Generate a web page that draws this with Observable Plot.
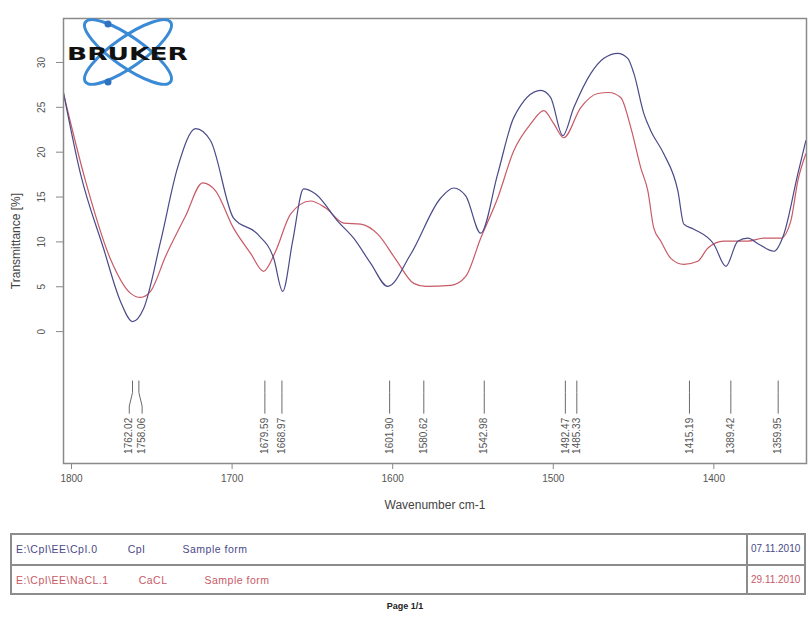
<!DOCTYPE html>
<html><head><meta charset="utf-8">
<script src="https://cdn.jsdelivr.net/npm/d3@7"></script>
<script src="https://cdn.jsdelivr.net/npm/@observablehq/plot@0.6"></script>
<style>
body{margin:0;background:#fff;font-family:"Liberation Sans",Arial,sans-serif;}
#wrap{position:relative;width:810px;height:619px;overflow:hidden;background:#fff;}
#chart{position:absolute;left:0;top:0;}
#logo{position:absolute;left:0;top:0;pointer-events:none;}
#legend{position:absolute;left:10px;top:533px;width:796px;height:62px;box-sizing:border-box;border:2px solid #8c8c8c;}
.row{position:absolute;left:0;width:100%;height:30px;font-size:10.5px;line-height:30px;box-sizing:border-box;letter-spacing:0.5px;}
.row .desc{position:absolute;left:4px;top:0;white-space:nowrap;}
.row .date{position:absolute;left:739px;top:0;white-space:nowrap;letter-spacing:0;font-size:10px;}
.row span.g1{margin-left:30px;}
.row span.g2{margin-left:37px;}
#vdiv{position:absolute;left:734px;top:0;width:2px;height:100%;background:#8c8c8c;}
#hdiv{position:absolute;left:0;top:29px;width:100%;height:2px;background:#8c8c8c;}
#page{position:absolute;left:0;width:810px;top:601px;text-align:center;font-size:9px;font-weight:bold;color:#222;}
</style></head><body>
<div id="wrap">
<div id="chart"></div>
<div id="legend"><div id="hdiv"></div><div id="vdiv"></div></div>
<div id="page">Page 1/1</div>
</div>
<script>
// Spectrum 1 (blue, Cpl)
const wnBlue = [1805.0,1794.4,1780.1,1769.5,1762.0,1755.1,1744.5,1734.0,1722.7,1713.4,1699.1,1684.1,1674.1,1668.5,1662.3,1655.5,1648.0,1634.3,1624.3,1613.7,1603.1,1588.8,1570.1,1562.0,1554.5,1545.2,1534.6,1524.6,1507.8,1501.6,1494.1,1487.2,1476.6,1468.5,1459.8,1453.6,1449.8,1443.6,1439.3,1431.2,1422.4,1418.7,1412.5,1400.0,1392.5,1385.1,1378.8,1372.0,1362.6,1356.4,1347.7,1342.7];
const tBlue = [26.65,17.58,9.29,3.36,1.12,2.58,10.08,18.25,22.62,21.28,12.65,10.86,8.17,4.48,10.08,15.90,15.34,12.32,10.41,7.61,5.04,8.62,14.89,16.01,15.12,10.97,17.58,23.85,26.88,26.09,21.84,24.97,28.78,30.46,31.02,30.46,28.78,24.30,22.40,19.82,15.68,11.98,11.42,9.74,7.28,10.08,10.41,9.74,8.96,10.86,17.58,21.28];
// Spectrum 2 (red, CaCL)
const wnRed = [1805.0,1791.3,1775.7,1763.2,1757.0,1750.8,1741.4,1729.0,1718.4,1710.3,1699.1,1688.5,1680.4,1672.9,1663.6,1651.1,1641.7,1630.5,1619.9,1609.3,1598.1,1586.9,1579.4,1563.9,1554.5,1545.2,1534.6,1524.6,1514.0,1505.9,1499.7,1493.5,1482.9,1472.3,1465.4,1458.0,1451.7,1445.5,1441.1,1437.4,1433.0,1426.8,1418.7,1410.0,1403.8,1393.8,1378.8,1368.9,1358.3,1352.1,1347.7,1342.7];
const tRed = [26.54,16.80,8.06,4.26,3.81,4.48,8.40,12.88,16.57,15.68,11.53,8.73,6.72,8.96,13.10,14.56,13.77,12.09,11.98,10.86,8.06,5.38,5.04,5.15,6.16,10.41,14.89,20.16,23.18,24.64,23.18,21.61,24.97,26.54,26.65,26.09,22.73,18.25,15.68,11.53,10.08,8.17,7.50,7.84,9.29,10.08,10.08,10.41,10.41,12.32,16.80,19.82];
// Peak picks
const peaks = [1762.02,1758.06,1679.59,1668.97,1601.90,1580.62,1542.98,1492.47,1485.33,1415.19,1389.42,1359.95];
const xTicks = [1800,1700,1600,1500,1400];
const yTicks = [0,5,10,15,20,25,30];
// Legend table
const files = ["E:\\CpI\\EE\\CpI.0","E:\\CpI\\EE\\NaCL.1"];
const names = ["CpI","CaCL"];
const forms = ["Sample form","Sample form"];
const dates = ["07.11.2010","29.11.2010"];
const colors = ["#4a4a88","#c85a66"];

const blue = wnBlue.map((w,i)=>({w,t:tBlue[i]}));
const red = wnRed.map((w,i)=>({w,t:tRed[i]}));

// label positions: spread peaks that are too close
const pk = peaks.map((w,i)=>({id:i,w,lw:w}));
for (let i=0;i<pk.length-1;i++){
  const a=pk[i], b=pk[i+1];
  if (a.w-b.w < 5){ const c=(a.w+b.w)/2; a.lw=c+4; b.lw=c-4; }
}
const Y0=-5.5, Y1=-6.8, Y2=-8.3, Y3=-9.1, YT=-9.6;
const leaders = pk.flatMap(p=>[{id:p.id,w:p.w,y:Y0},{id:p.id,w:p.w,y:Y1},{id:p.id,w:p.lw,y:Y2},{id:p.id,w:p.lw,y:Y3}]);

const chart = Plot.plot({
  width:810, height:520,
  marginTop:18, marginLeft:63, marginRight:4, marginBottom:57,
  style:{fontFamily:"Liberation Sans, Arial, sans-serif", background:"#fff", color:"#555"},
  x:{domain:[1805,1342.3]},
  y:{domain:[-14.7,34.9]},
  marks:[
    Plot.axisX({ticks:xTicks, tickSize:6, tickPadding:5, fontSize:10, label:null, tickFormat:d=>String(d), stroke:"#888"}),
    Plot.axisY({ticks:yTicks, tickSize:7, tickPadding:12, tickRotate:-90, fontSize:10, label:null, stroke:"#888"}),
    Plot.text(["Wavenumber cm-1"],{frameAnchor:"bottom", dy:45, fontSize:12, fill:"#444", textAnchor:"middle"}),
    Plot.text(["Transmittance [%]"],{frameAnchor:"left", dx:-47, rotate:-90, fontSize:12, fill:"#444", textAnchor:"middle"}),
    Plot.line(leaders,{x:"w", y:"y", z:"id", stroke:"#6a6a6a", strokeWidth:1}),
    Plot.text(pk,{x:"lw", y:()=>YT, text:d=>d.w.toFixed(2), rotate:-90, textAnchor:"end", lineAnchor:"middle", fontSize:10, fill:"#555"}),
    Plot.line(red,{x:"w", y:"t", stroke:colors[1], strokeWidth:1.2, curve:"monotone-x"}),
    Plot.line(blue,{x:"w", y:"t", stroke:colors[0], strokeWidth:1.2, curve:"monotone-x"}),
    Plot.frame({stroke:"#8a8a8a", strokeWidth:1.5})
  ]
});
document.getElementById("chart").appendChild(chart);

// logo (decoration)
const ns="http://www.w3.org/2000/svg";
const logo=document.createElementNS(ns,"svg");
logo.setAttribute("id","logo");logo.setAttribute("width",810);logo.setAttribute("height",100);
logo.innerHTML = `
 <g fill="none" stroke="#3b8ad6" stroke-width="3">
  <ellipse cx="128" cy="52" rx="52" ry="15" transform="rotate(35 128 52)"/>
  <ellipse cx="128" cy="52" rx="52" ry="15" transform="rotate(-35 128 52)"/>
 </g>
 <circle cx="108" cy="24" r="3.5" fill="#2f72c0"/>
 <circle cx="108" cy="82" r="3.5" fill="#2f72c0"/>
 <text x="67" y="60" font-family="DejaVu Sans" font-weight="bold" font-size="18" fill="#111" textLength="121" lengthAdjust="spacingAndGlyphs">BRUKER</text>`;
document.getElementById("wrap").appendChild(logo);

// legend rows
const leg=document.getElementById("legend");
files.forEach((f,i)=>{
  const r=document.createElement("div");
  r.className="row"; r.style.top=(i*31-1)+"px"; r.style.color=colors[i];
  const d=document.createElement("div"); d.className="desc";
  const s1=document.createElement("span"); s1.textContent=f;
  const s2=document.createElement("span"); s2.className="g1"; s2.textContent=names[i];
  const s3=document.createElement("span"); s3.className="g2"; s3.textContent=forms[i];
  d.append(s1,s2,s3);
  const dt=document.createElement("div"); dt.className="date"; dt.textContent=dates[i];
  r.append(d,dt); leg.appendChild(r);
});
</script>
</body></html>
